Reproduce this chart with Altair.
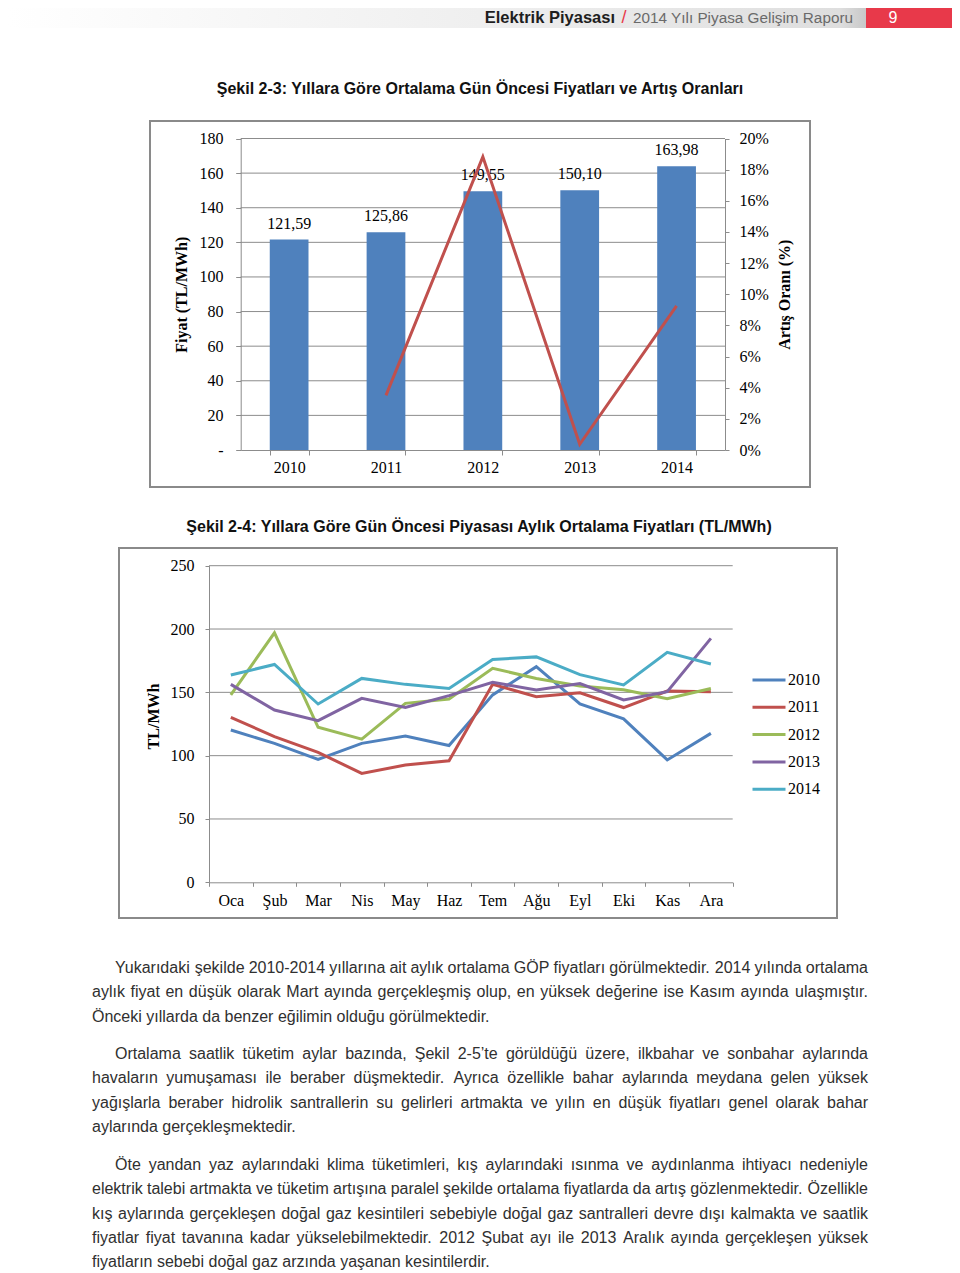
import altair as alt
import pandas as pd

# ---------------- data: chart 1 ----------------
years = ["2010", "2011", "2012", "2013", "2014"]
avg_price = [121.59, 125.86, 149.55, 150.10, 163.98]
growth_pct = [None, 3.51, 18.82, 0.37, 9.25]
price_ticks = [0, 20, 40, 60, 80, 100, 120, 140, 160, 180]
pct_ticks = [0, 2, 4, 6, 8, 10, 12, 14, 16, 18, 20]

# ---------------- data: chart 2 ----------------
months = ["Oca", "Şub", "Mar", "Nis", "May", "Haz", "Tem", "Ağu", "Eyl", "Eki", "Kas", "Ara"]
series_years = ["2010", "2011", "2012", "2013", "2014"]
p2010 = [120.3, 109.7, 97.1, 109.7, 115.5, 108.0, 148.0, 170.3, 140.8, 129.0, 96.6, 117.6]
p2011 = [130.3, 115.0, 102.6, 86.0, 92.6, 96.0, 156.3, 146.6, 149.7, 138.0, 151.0, 150.5]
p2012 = [148.0, 197.0, 122.4, 113.0, 141.3, 144.7, 169.0, 161.0, 155.0, 152.0, 145.0, 153.0]
p2013 = [156.3, 136.0, 127.6, 145.3, 138.0, 147.4, 158.0, 151.8, 157.0, 144.0, 150.5, 192.6]
p2014 = [163.7, 172.0, 140.8, 161.0, 156.3, 153.0, 176.0, 178.0, 164.0, 155.8, 181.6, 172.4]
monthly_ticks = [0, 50, 100, 150, 200, 250]
series_colors = ["#4f81bd", "#c0504d", "#9bbb59", "#8064a2", "#4bacc6"]

# ---------------- texts ----------------
header_bold = "Elektrik Piyasası"
header_rest = "2014 Yılı Piyasa Gelişim Raporu"
page_no = "9"
title1 = "Şekil 2-3: Yıllara Göre Ortalama Gün Öncesi Fiyatları ve Artış Oranları"
title2 = "Şekil 2-4: Yıllara Göre Gün Öncesi Piyasası Aylık Ortalama Fiyatları (TL/MWh)"
para1 = [
    "Yukarıdaki şekilde 2010-2014 yıllarına ait aylık ortalama GÖP fiyatları görülmektedir. 2014 yılında ortalama",
    "aylık fiyat en düşük olarak Mart ayında gerçekleşmiş olup, en yüksek değerine ise Kasım ayında ulaşmıştır.",
    "Önceki yıllarda da benzer eğilimin olduğu görülmektedir.",
]
para2 = [
    "Ortalama saatlik tüketim aylar bazında, Şekil 2-5’te görüldüğü üzere, ilkbahar ve sonbahar aylarında",
    "havaların yumuşaması ile beraber düşmektedir. Ayrıca özellikle bahar aylarında meydana gelen yüksek",
    "yağışlarla beraber hidrolik santrallerin su gelirleri artmakta ve yılın en düşük fiyatları genel olarak bahar",
    "aylarında gerçekleşmektedir.",
]
para3 = [
    "Öte yandan yaz aylarındaki klima tüketimleri, kış aylarındaki ısınma ve aydınlanma ihtiyacı nedeniyle",
    "elektrik talebi artmakta ve tüketim artışına paralel şekilde ortalama fiyatlarda da artış gözlenmektedir. Özellikle",
    "kış aylarında gerçekleşen doğal gaz kesintileri sebebiyle doğal gaz santralleri devre dışı kalmakta ve saatlik",
    "fiyatlar fiyat tavanına kadar yükselebilmektedir. 2012 Şubat ayı ile 2013 Aralık ayında gerçekleşen yüksek",
    "fiyatların sebebi doğal gaz arzında yaşanan kesintilerdir.",
]

# ---------------- styling ----------------
W = 944
H1 = 500
H2 = 422
H3 = 338
SERIF = "Liberation Serif"
SANS = "Liberation Sans"
GRID = "#8c8c8c"
FRAME = "#8a8a8a"
TXT = "#303030"
RED = "#e8394a"

one = pd.DataFrame({"k": [0]})
df1 = pd.DataFrame({"year": years, "price": avg_price, "growth": growth_pct})
rows = []
for yr, vals in zip(series_years, [p2010, p2011, p2012, p2013, p2014]):
    for m, v in zip(months, vals):
        rows.append({"year": yr, "month": m, "price": v})
df2 = pd.DataFrame(rows)


def deco_rect(x, x2, y, y2, **kw):
    return alt.Chart(one).mark_rect(**kw).encode(
        x=alt.value(x), x2=alt.value(x2), y=alt.value(y), y2=alt.value(y2)
    )


def deco_text(txt, x, y, **kw):
    return alt.Chart(one).mark_text(**kw).encode(
        x=alt.value(x), y=alt.value(y), text=alt.value(txt)
    )


# ================= ROW 1 : header + figure 2-3 =================
band = deco_rect(
    0, 858, 0, 20,
    fill=alt.Gradient(
        gradient="linear",
        stops=[
            alt.GradientStop(color="#ffffff", offset=0),
            alt.GradientStop(color="#efefef", offset=0.55),
            alt.GradientStop(color="#dedede", offset=0.97),
            alt.GradientStop(color="#c8c8c8", offset=1),
        ],
        x1=0, x2=1, y1=0, y2=0,
    ),
)
redbox = deco_rect(858, 944, 0, 20, fill=RED)
h_bold = deco_text(header_bold, 607, 10, font=SANS, fontSize=16.5, fontWeight="bold",
                   align="right", baseline="middle", color="#1e1e1e")
h_slash = deco_text("/", 616, 10, font=SANS, fontSize=18, align="center",
                    baseline="middle", color=RED)
h_rest = deco_text(header_rest, 845, 10, font=SANS, fontSize=15.3, align="right",
                   baseline="middle", color="#6a6a6a")
h_no = deco_text(page_no, 885, 10, font=SANS, fontSize=16, align="center",
                 baseline="middle", color="white")
t1 = deco_text(title1, 472, 81, font=SANS, fontSize=16, fontWeight="bold",
               align="center", baseline="middle", color="#111111")
frame1 = deco_rect(142, 802, 113, 479, filled=False, stroke=FRAME, strokeWidth=2)

X1_LEFT, X1_RIGHT = 232.7, 717
Y1_BOT, Y1_TOP = 442, 130.5

x1_scale = alt.Scale(domain=years, range=[X1_LEFT, X1_RIGHT], paddingInner=0.6, paddingOuter=0.3)
x1_axis = alt.Axis(orient="bottom", offset=-(H1 - Y1_BOT), tickBand="extent", labelAngle=0,
                   labelFont=SERIF, labelFontSize=16, labelColor="black", tickSize=5,
                   tickColor=GRID, domainColor=GRID, labelPadding=4, grid=False, title=None)
y1_scale = alt.Scale(domain=[0, 180], range=[Y1_BOT, Y1_TOP], nice=False)
y1_axis = alt.Axis(orient="left", offset=-X1_LEFT, values=price_ticks,
                   labelExpr="datum.value == 0 ? '-' : datum.label",
                   labelFont=SERIF, labelFontSize=16, labelColor="black", tickSize=5,
                   tickColor=GRID, domainColor=GRID, labelPadding=12.7, grid=False,
                   title="Fiyat (TL/MWh)", titleFont=SERIF, titleFontSize=16,
                   titleFontWeight="bold", titleColor="black", titleAngle=270,
                   titleX=173 - X1_LEFT, titleY=(Y1_BOT + Y1_TOP) / 2,
                   titleBaseline="middle", titleAlign="center")
y1r_scale = alt.Scale(domain=[0, 20], range=[Y1_BOT, Y1_TOP], nice=False)
y1r_axis = alt.Axis(orient="right", offset=-(W - X1_RIGHT), values=pct_ticks,
                    labelExpr="datum.value + '%'",
                    labelFont=SERIF, labelFontSize=16, labelColor="black", tickSize=4,
                    tickColor=GRID, domainColor=GRID, labelPadding=10, grid=False,
                    title="Artış Oranı (%)", titleFont=SERIF, titleFontSize=16,
                    titleFontWeight="bold", titleColor="black", titleAngle=270,
                    titleX=776 - X1_RIGHT, titleY=(Y1_BOT + Y1_TOP) / 2,
                    titleBaseline="middle", titleAlign="center")

grid1 = alt.Chart(pd.DataFrame({"v": price_ticks[1:]})).mark_rule(
    color=GRID, strokeWidth=1
).encode(
    y=alt.Y("v:Q", scale=y1_scale, axis=y1_axis),
    x=alt.value(X1_LEFT), x2=alt.value(X1_RIGHT),
)
bars1 = alt.Chart(df1).mark_bar(color="#4f81bd").encode(
    x=alt.X("year:N", sort=years, scale=x1_scale, axis=x1_axis),
    y=alt.Y("price:Q", scale=y1_scale, axis=y1_axis),
)
labels1 = alt.Chart(df1).transform_calculate(
    lbl="replace(format(datum.price, '.2f'), '.', ',')"
).mark_text(font=SERIF, fontSize=16, color="black", baseline="bottom", dy=-8).encode(
    x=alt.X("year:N", sort=years, scale=x1_scale, axis=x1_axis, bandPosition=0.5),
    y=alt.Y("price:Q", scale=y1_scale, axis=y1_axis),
    text="lbl:N",
)
line1 = alt.Chart(df1).transform_filter("isValid(datum.growth)").mark_line(
    color="#c0504d", strokeWidth=3
).encode(
    x=alt.X("year:N", sort=years, scale=x1_scale, axis=x1_axis, bandPosition=0.5),
    y=alt.Y("growth:Q", scale=y1r_scale, axis=y1r_axis),
)

price_group = alt.layer(grid1, bars1, labels1)
row1 = alt.layer(
    band, redbox, h_bold, h_slash, h_rest, h_no, t1, frame1, price_group, line1
).resolve_scale(y="independent").resolve_axis(y="independent").properties(width=W, height=H1)

# ================= ROW 2 : figure 2-4 =================
t2 = deco_text(title2, 471, 19, font=SANS, fontSize=16, fontWeight="bold",
               align="center", baseline="middle", color="#111111")
frame2 = deco_rect(111, 829, 40, 410, filled=False, stroke=FRAME, strokeWidth=2)

X2_LEFT, X2_RIGHT = 201, 724.7
Y2_BOT, Y2_TOP = 374.3, 57.7
x2_scale = alt.Scale(domain=months, range=[X2_LEFT, X2_RIGHT], paddingInner=0, paddingOuter=0)
x2_axis = alt.Axis(orient="bottom", offset=-(H2 - Y2_BOT), tickBand="extent", labelAngle=0,
                   labelFont=SERIF, labelFontSize=16, labelColor="black", tickSize=4,
                   tickColor=GRID, domainColor=GRID, labelPadding=6, grid=False, title=None)
y2_scale = alt.Scale(domain=[0, 250], range=[Y2_BOT, Y2_TOP], nice=False)
y2_axis = alt.Axis(orient="left", offset=-X2_LEFT, values=monthly_ticks,
                   labelFont=SERIF, labelFontSize=16, labelColor="black", tickSize=4,
                   tickColor=GRID, domainColor=GRID, labelPadding=11, grid=False,
                   title="TL/MWh", titleFont=SERIF, titleFontSize=16,
                   titleFontWeight="bold", titleColor="black", titleAngle=270,
                   titleX=145 - X2_LEFT, titleY=208,
                   titleBaseline="middle", titleAlign="center")

grid2 = alt.Chart(pd.DataFrame({"v": monthly_ticks[1:]})).mark_rule(
    color=GRID, strokeWidth=1
).encode(
    y=alt.Y("v:Q", scale=y2_scale, axis=y2_axis),
    x=alt.value(X2_LEFT), x2=alt.value(X2_RIGHT),
)
lines2 = alt.Chart(df2).mark_line(strokeWidth=3).encode(
    x=alt.X("month:N", sort=months, scale=x2_scale, axis=x2_axis, bandPosition=0.5),
    y=alt.Y("price:Q", scale=y2_scale, axis=y2_axis),
    color=alt.Color(
        "year:N",
        scale=alt.Scale(domain=series_years, range=series_colors),
        legend=alt.Legend(
            orient="none", legendX=743, legendY=654, title=None,
            symbolType="stroke", symbolSize=1089, symbolStrokeWidth=3,
            labelFont=SERIF, labelFontSize=16, labelColor="black",
            labelOffset=1, rowPadding=1.3, padding=0,
        ),
    ),
)

row2 = alt.layer(t2, frame2, grid2, lines2).properties(width=W, height=H2)

# ================= ROW 3 : justified body text =================
# Liberation Sans (Arial-metric) advance widths, 1/1000 em
CW = {" ": 278, ",": 278, ".": 278, "-": 333, ":": 278, "’": 222, "'": 191,
      "ı": 278, "ş": 500, "ç": 500, "ğ": 556, "ü": 556, "ö": 556,
      "Ö": 778, "Ş": 667, "Ü": 722, "Ç": 722, "İ": 278}
CW.update({d: 556 for d in "0123456789"})
CW.update(dict(zip("abcdefghijklmnopqrstuvwxyz",
                   [556, 556, 500, 556, 556, 278, 556, 556, 222, 222, 500, 222, 833,
                    556, 556, 556, 556, 333, 500, 278, 556, 500, 722, 500, 500, 500])))
CW.update(dict(zip("ABCDEFGHIJKLMNOPQRSTUVWXYZ",
                   [667, 667, 722, 722, 667, 611, 778, 722, 278, 500, 667, 556, 833,
                    722, 778, 667, 778, 722, 667, 611, 722, 667, 944, 667, 667, 611])))
FS = 16
LEFT, INDENT, RIGHT = 84, 107, 860
LH = 24.3
para_base = [43, 129, 240]


def tw(s):
    return sum(CW.get(ch, 556) for ch in s) * FS / 1000.0


left_rows, right_rows = [], []
for lines, base in zip([para1, para2, para3], para_base):
    for i, line in enumerate(lines):
        yy = base + i * LH
        x0 = INDENT if i == 0 else LEFT
        if i == len(lines) - 1:
            left_rows.append({"w": line, "px": x0, "py": yy})
            continue
        words = line.split(" ")
        widths = [tw(w) for w in words]
        gap = (RIGHT - x0 - sum(widths)) / (len(words) - 1)
        xx = x0
        for w, wd in zip(words[:-1], widths[:-1]):
            left_rows.append({"w": w, "px": xx, "py": yy})
            xx += wd + gap
        right_rows.append({"w": words[-1], "px": RIGHT, "py": yy})

body_left = alt.Chart(pd.DataFrame(left_rows)).mark_text(
    font=SANS, fontSize=FS, align="left", baseline="alphabetic", color=TXT
).encode(
    x=alt.X("px:Q", scale=None, axis=None),
    y=alt.Y("py:Q", scale=None, axis=None),
    text="w:N",
)
body_right = alt.Chart(pd.DataFrame(right_rows)).mark_text(
    font=SANS, fontSize=FS, align="right", baseline="alphabetic", color=TXT
).encode(
    x=alt.X("px:Q", scale=None, axis=None),
    y=alt.Y("py:Q", scale=None, axis=None),
    text="w:N",
)
row3 = alt.layer(body_left, body_right).properties(width=W, height=H3)

chart = alt.vconcat(row1, row2, row3, spacing=0).properties(
    padding=0, background="white"
).configure_view(stroke=None)

chart.save("out.html", embed_options={"renderer": "svg", "actions": False})
